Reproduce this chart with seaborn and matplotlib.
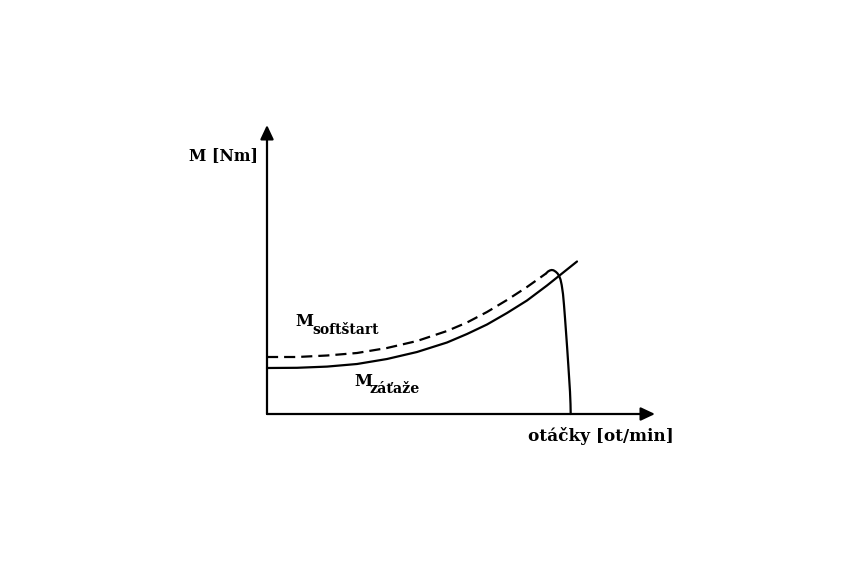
import matplotlib
matplotlib.use("Agg")
import matplotlib.pyplot as plt
import seaborn as sns
import pandas as pd

# Values (schematic units; origin of the axes = 0)
speed_load = [0, 30, 60, 90, 120, 150, 180, 200, 220, 240, 260, 280, 295, 310]
torque_load = [46, 46.2, 47.4, 50, 55, 62, 71.5, 80, 89.5, 101, 113.5, 128.5, 140.5, 152.5]

speed_soft = [0, 30, 60, 90, 120, 150, 180, 200, 220, 240, 260, 279]
torque_soft = [57, 57, 58.5, 61, 66, 73, 83, 91.5, 102, 114, 127, 140.5]

speed_drop = [279, 281, 283, 284.7, 286.5, 288.7, 290.5, 292, 293.5, 294.7,
              296, 297, 298, 299, 300.2, 301.3, 302.2, 303, 303.5, 303.7]
torque_drop = [140.5, 142.5, 143.6, 144, 143.7, 142.3, 140.6, 138.3, 134.5, 129,
               120, 109, 96, 82.3, 65.5, 49, 35, 22.3, 10, 0]

axis_x_end = 388
axis_y_end = 289

label_y = "M [Nm]"
label_x = "otáčky [ot/min]"
label_soft = ("M", "softštart")
label_load = ("M", "záťaže")

sns.set_theme(style="white")
plt.rcParams["font.family"] = ["DejaVu Serif", "DejaVu Sans"]

fig = plt.figure(figsize=(8.5, 5.67), dpi=100)
ax = fig.add_axes([0, 0, 1, 1])
ax.set_xlim(-267, 583)
ax.set_ylim(-153, 414)
ax.axis("off")

df_load = pd.DataFrame({"speed": speed_load, "torque": torque_load})
df_soft = pd.DataFrame({"speed": speed_soft, "torque": torque_soft})
df_drop = pd.DataFrame({"speed": speed_drop, "torque": torque_drop})

sns.lineplot(data=df_load, x="speed", y="torque", ax=ax, color="black",
             linewidth=1.6, sort=False, estimator=None)
sns.lineplot(data=df_soft, x="speed", y="torque", ax=ax, color="black",
             linewidth=1.6, sort=False, estimator=None,
             linestyle=(0, (5.0, 2.7)))
sns.lineplot(data=df_drop, x="speed", y="torque", ax=ax, color="black",
             linewidth=1.6, sort=False, estimator=None)

arrow_kw = dict(arrowstyle="-|>,head_length=0.85,head_width=0.4",
                color="black", lw=1.6, mutation_scale=10,
                shrinkA=0, shrinkB=0)
ax.annotate("", xy=(0, axis_y_end), xytext=(0, 0), arrowprops=arrow_kw)
ax.annotate("", xy=(axis_x_end, 0), xytext=(0, 0), arrowprops=arrow_kw)

ax.text(-9, 254, label_y, ha="right", va="baseline", fontsize=11.3,
        fontweight="bold", color="black")
ax.text(407, -27, label_x, ha="right", va="baseline", fontsize=12.2,
        fontweight="bold", color="black")

ax.text(28, 87.7, label_soft[0], ha="left", va="baseline", fontsize=11.8,
        fontweight="bold", color="black")
ax.text(45, 80, label_soft[1], ha="left", va="baseline", fontsize=10,
        fontweight="bold", color="black")

ax.text(87, 27.5, label_load[0], ha="left", va="baseline", fontsize=11.8,
        fontweight="bold", color="black")
ax.text(103, 21, label_load[1], ha="left", va="baseline", fontsize=10.3,
        fontweight="bold", color="black")

fig.savefig("out.png", dpi=100, facecolor="white")
